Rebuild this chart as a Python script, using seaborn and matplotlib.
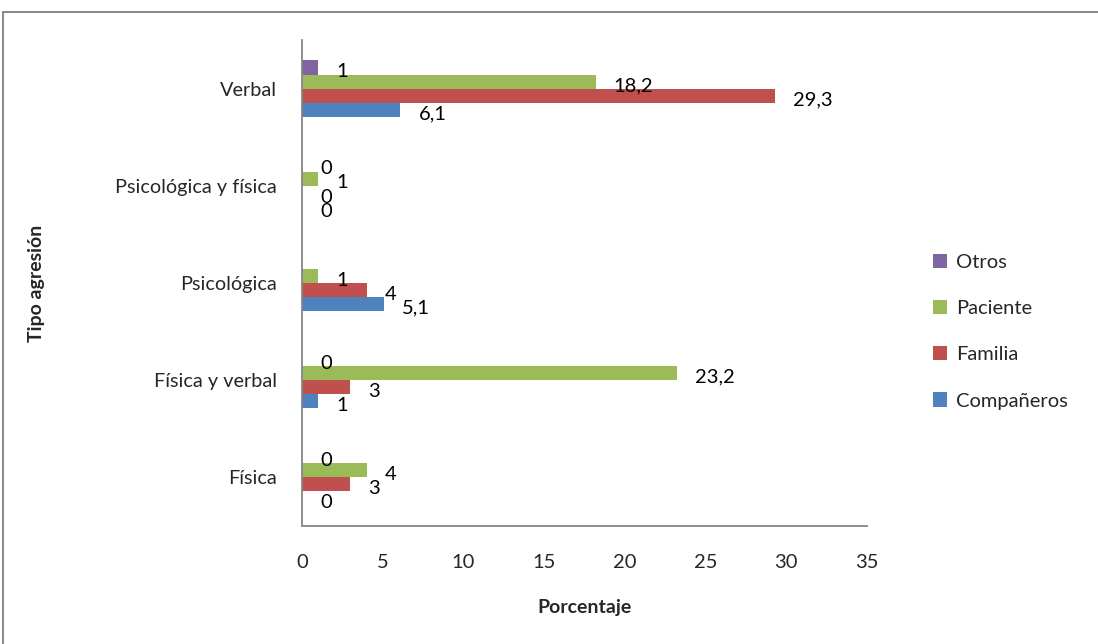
import numpy as np
import pandas as pd
import matplotlib
matplotlib.use("Agg")
import matplotlib.pyplot as plt
from matplotlib.patches import Rectangle
import seaborn as sns

categories = ["Verbal", "Psicológica y física", "Psicológica", "Física y verbal", "Física"]
series = ["Otros", "Paciente", "Familia", "Compañeros"]
otros = [1, 0, np.nan, 0, 0]
paciente = [18.2, 1, 1, 23.2, 4]
familia = [29.3, 0, 4, 3, 3]
companeros = [6.1, 0, 5.1, 1, 0]
colors = ["#8064A2", "#9BBB59", "#C0504D", "#4F81BD"]
xticks = [0, 5, 10, 15, 20, 25, 30, 35]

rows = []
for name, vals in zip(series, [otros, paciente, familia, companeros]):
    for cat, v in zip(categories, vals):
        rows.append({"Tipo": cat, "Serie": name, "Valor": v})
df = pd.DataFrame(rows).dropna()

sns.set_theme(style="white")
plt.rcParams["font.family"] = ["Lato", "DejaVu Sans"]

fig = plt.figure(figsize=(10.98, 6.44), dpi=100)
ax = fig.add_axes([302 / 1098, 1 - 526 / 644, (867 - 302) / 1098, (526 - 40) / 644])

sns.barplot(data=df, x="Valor", y="Tipo", hue="Serie", order=categories,
            hue_order=series, palette=colors, orient="h", width=0.58,
            saturation=1, errorbar=None, ax=ax, linewidth=0)

def fmt(v):
    return f"{v:g}".replace(".", ",")

for c in ax.containers:
    anns = ax.bar_label(c, labels=[fmt(v) for v in c.datavalues], padding=13,
                        fontsize=14.5, color="black")
    for a in anns:
        a.xyann = (a.xyann[0], a.xyann[1] - 3)

ax.set_xlim(0, 35)
ax.set_ylim(4.5, -0.5)
ax.set_xticks(xticks)
ax.set_xticklabels([str(t) for t in xticks])
ax.tick_params(axis="x", length=6, width=1, color="#868686", labelsize=14.5, pad=14, direction="out")
ax.tick_params(axis="y", length=0, labelsize=14.3, pad=18)
for s in ["top", "right"]:
    ax.spines[s].set_visible(False)
for s in ["left", "bottom"]:
    ax.spines[s].set_color("#868686")
    ax.spines[s].set_linewidth(1.3)
ax.set_xlabel("Porcentaje", fontsize=14, fontweight="bold", labelpad=20)
ax.set_ylabel("Tipo agresión", fontsize=14, fontweight="bold")
ax.yaxis.set_label_coords(-0.455, 0.5)

handles, labels = ax.get_legend_handles_labels()
leg = ax.legend(handles, labels, loc="center left", bbox_to_anchor=(1.085, 0.40),
                frameon=False, handlelength=0.7, handleheight=0.7,
                labelspacing=1.45, handletextpad=0.45, fontsize=14.5)

fig.patches.append(Rectangle((3 / 1098, -0.1), 1.2, 1 - 12 / 644 + 0.1,
                             transform=fig.transFigure, fill=False,
                             edgecolor="#8c8c8c", linewidth=1.5))

fig.savefig("out.png", dpi=100)
